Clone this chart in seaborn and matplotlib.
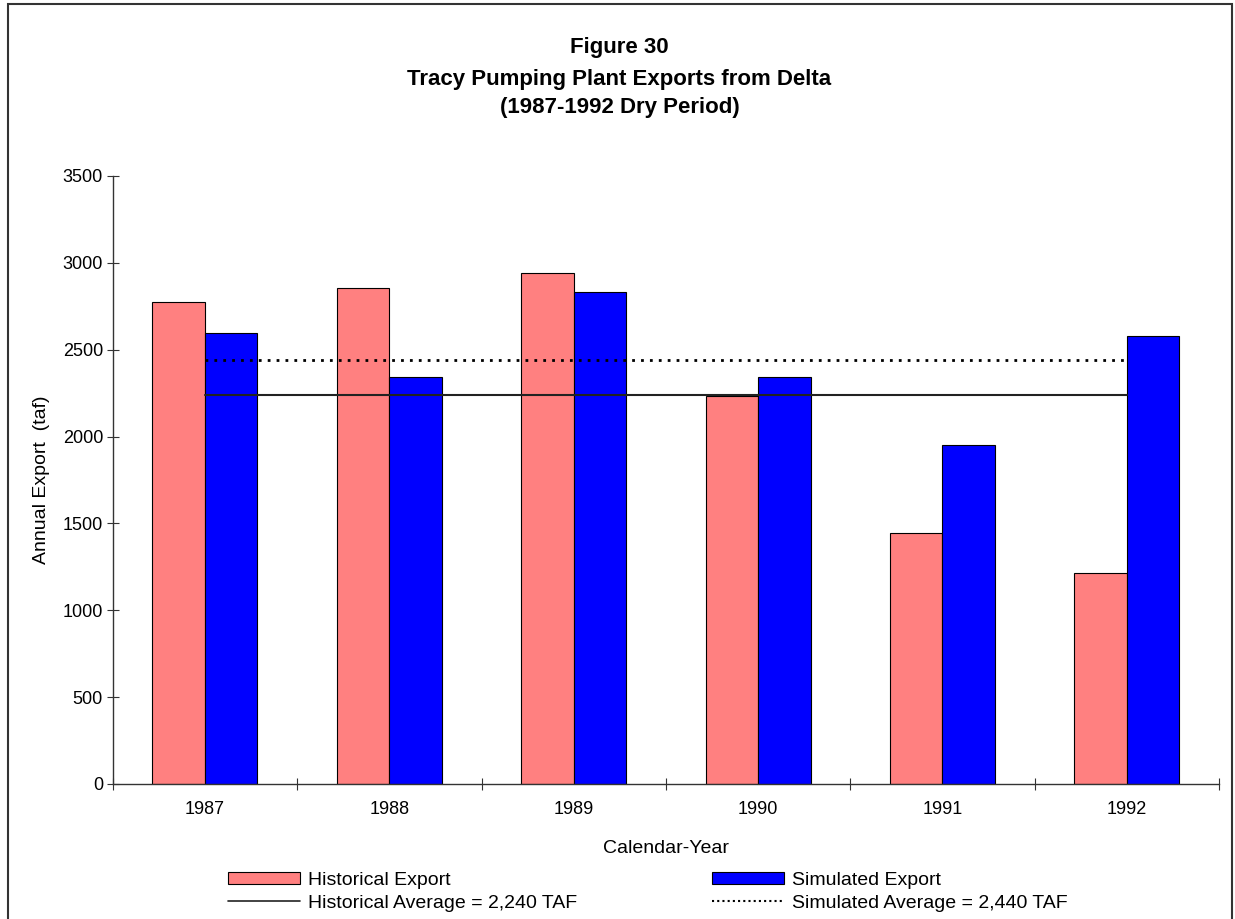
import matplotlib
matplotlib.use("Agg")
import matplotlib.pyplot as plt
import seaborn as sns
import pandas as pd
from matplotlib.patches import Patch, Rectangle
from matplotlib.lines import Line2D
from matplotlib.ticker import FixedLocator, NullFormatter

# ---- data ----
years = ["1987", "1988", "1989", "1990", "1991", "1992"]
historical_export = [2775, 2858, 2940, 2236, 1442, 1212]
simulated_export = [2596, 2345, 2832, 2345, 1951, 2580]
historical_average = 2240
simulated_average = 2440
series_names = ["Historical Export", "Simulated Export"]
avg_labels = ["Historical Average = 2,240 TAF", "Simulated Average = 2,440 TAF"]
colors = {"Historical Export": "#FF8080", "Simulated Export": "#0000FF"}

df = pd.DataFrame({
    "Year": years * 2,
    "Export": historical_export + simulated_export,
    "Series": [series_names[0]] * len(years) + [series_names[1]] * len(years),
})

sns.set_theme(style="white")
plt.rcParams["font.family"] = ["Liberation Sans", "DejaVu Sans"]
plt.rcParams["text.color"] = "black"
plt.rcParams["axes.labelcolor"] = "black"
plt.rcParams["xtick.color"] = "black"
plt.rcParams["ytick.color"] = "black"

fig = plt.figure(figsize=(12.35, 9.19), dpi=100)
ax = fig.add_axes([0.0913, 0.1469, 0.8958, 0.6616])

sns.barplot(data=df, x="Year", y="Export", hue="Series", hue_order=series_names,
            order=years, palette=colors, width=0.57, edgecolor="black",
            linewidth=0.8, saturation=1, legend=False, ax=ax, zorder=2)

xpos = list(range(len(years)))
ax.plot(xpos, [historical_average] * len(years), color="#222222", lw=1.5, zorder=3)
ax.plot(xpos, [simulated_average] * len(years), color="black", lw=2.0,
        linestyle=(0, (1, 2.2)), zorder=3)

ax.set_xlim(-0.5, len(years) - 0.5)
ax.set_ylim(0, 3500)
ax.set_yticks(range(0, 3501, 500))
ax.tick_params(axis="y", left=True, direction="inout", length=8, width=0.8,
               color="#333333", labelsize=13, pad=3)

# category boundary ticks (major) and labels at centers (minor)
ax.xaxis.set_major_locator(FixedLocator([i - 0.5 for i in range(len(years) + 1)]))
ax.xaxis.set_major_formatter(NullFormatter())
ax.xaxis.set_minor_locator(FixedLocator(xpos))
ax.set_xticklabels(years, minor=True)
ax.tick_params(axis="x", which="major", bottom=True, direction="inout", length=9,
               width=0.8, color="#333333")
ax.tick_params(axis="x", which="minor", bottom=True, length=0, labelsize=13, pad=12)

for s in ["top", "right"]:
    ax.spines[s].set_visible(False)
for s in ["left", "bottom"]:
    ax.spines[s].set_color("#333333")
    ax.spines[s].set_linewidth(1.0)

ax.set_xlabel("Calendar-Year", fontsize=14, labelpad=16)
ax.set_ylabel("Annual Export  (taf)", fontsize=14)
ax.yaxis.set_label_coords(-0.057, 0.5)

# title
fig.text(0.5016, 1 - 47 / 919, "Figure 30", ha="center", va="center",
         fontsize=16, fontweight="bold")
fig.text(0.5016, 1 - 79 / 919, "Tracy Pumping Plant Exports from Delta",
         ha="center", va="center", fontsize=16, fontweight="bold")
fig.text(0.5016, 1 - 108 / 919, "(1987-1992 Dry Period)", ha="center",
         va="center", fontsize=16, fontweight="bold")

# legends
h_hist = Patch(facecolor=colors[series_names[0]], edgecolor="black", linewidth=0.8)
h_sim = Patch(facecolor=colors[series_names[1]], edgecolor="black", linewidth=0.8)
l_hist = Line2D([], [], color="#222222", lw=1.2)
l_sim = Line2D([], [], color="black", lw=1.5, linestyle=(0, (1, 1.5)))
leg_kw = dict(frameon=False, loc="upper left", fontsize=14, handlelength=3.7,
              handleheight=0.6, handletextpad=0.4, labelspacing=0.3,
              borderpad=0, borderaxespad=0)
leg1 = fig.legend([h_hist, l_hist], [series_names[0], avg_labels[0]],
                  bbox_to_anchor=(228 / 1235, 1 - 872 / 919), **leg_kw)
leg2 = fig.legend([h_sim, l_sim], [series_names[1], avg_labels[1]],
                  bbox_to_anchor=(712 / 1235, 1 - 872 / 919), **leg_kw)

# figure border
fig.patches.append(Rectangle((7.5 / 1235, -0.05), (1231.5 - 7.5) / 1235, 1.05 - 4 / 919,
                             transform=fig.transFigure, fill=False,
                             edgecolor="#333333", linewidth=1.5))

fig.savefig("out.png", dpi=100, facecolor="white")
